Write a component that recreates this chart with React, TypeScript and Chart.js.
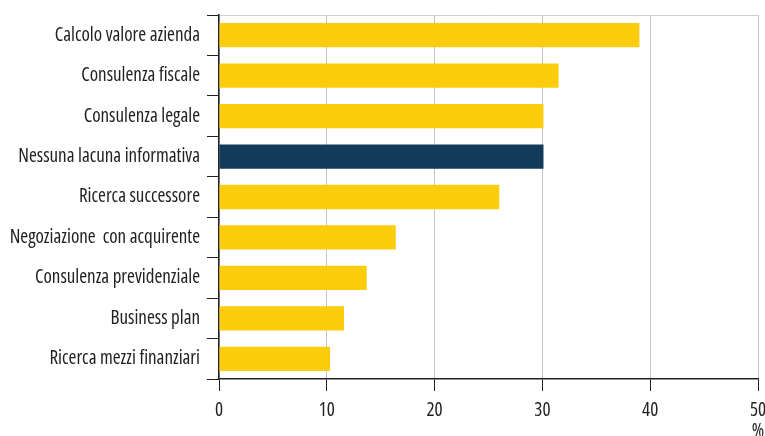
import React, { useEffect, useRef } from "react";
import { Chart, registerables } from "chart.js";

Chart.register(...registerables);

const categories = [
  "Calcolo valore azienda",
  "Consulenza fiscale",
  "Consulenza legale",
  "Nessuna lacuna informativa",
  "Ricerca successore",
  "Negoziazione  con acquirente",
  "Consulenza previdenziale",
  "Business plan",
  "Ricerca mezzi finanziari",
];

const values = [39.0, 31.5, 30.1, 30.1, 26.0, 16.4, 13.7, 11.6, 10.3];

const highlightIndex = 3;

const xTicks = [0, 10, 20, 30, 40, 50];
const unitLabel = "%";

const YELLOW = "#FBCD0C";
const NAVY = "#143A5A";
const FONT = '"Open Sans", sans-serif';
const fontSpec = { family: FONT, size: 19, weight: "condensed" as any };

const unitPlugin = {
  id: "unitLabel",
  afterDraw(chart: any) {
    const x = chart.scales.x;
    const ctx = chart.ctx;
    ctx.save();
    ctx.font = 'condensed 19px "Open Sans", sans-serif';
    ctx.fillStyle = "#222";
    ctx.textAlign = "center";
    ctx.textBaseline = "alphabetic";
    ctx.fillText(unitLabel, x.getPixelForValue(xTicks[xTicks.length - 1]), x.bottom + 1);
    ctx.restore();
  },
};

export default function App() {
  const ref = useRef<HTMLCanvasElement>(null);

  useEffect(() => {
    const canvas = ref.current;
    if (!canvas) return;
    const chart = new Chart(canvas, {
      type: "bar",
      data: {
        labels: categories,
        datasets: [
          {
            data: values,
            backgroundColor: values.map((_, i) => (i === highlightIndex ? NAVY : YELLOW)),
            borderWidth: 0,
            barPercentage: 0.6,
            categoryPercentage: 1,
          },
        ],
      },
      plugins: [unitPlugin],
      options: {
        indexAxis: "y",
        animation: false,
        responsive: true,
        maintainAspectRatio: false,
        layout: { padding: { top: 15, right: 7, left: 0, bottom: 0 } },
        plugins: {
          legend: { display: false },
          tooltip: { enabled: false },
        },
        scales: {
          x: {
            min: 0,
            max: 50,
            afterBuildTicks: (scale: any) => {
              scale.ticks = xTicks.map((v) => ({ value: v }));
            },
            afterFit: (scale: any) => {
              scale.height = 57;
              scale.paddingRight = 7;
            },
            grid: {
              color: "#c4c4c4",
              lineWidth: 1,
              tickColor: "#222",
              tickLength: 12,
              drawOnChartArea: true,
            },
            border: { color: "#222", width: 1.5 },
            ticks: {
              color: "#222",
              font: fontSpec,
              padding: 8,
              maxRotation: 0,
            },
          },
          y: {
            afterFit: (scale: any) => {
              scale.width = 219;
              scale.paddingTop = 0;
              scale.paddingBottom = 0;
            },
            grid: {
              offset: true,
              color: (ctx: any) => (ctx.index === 0 ? "#d0d0d0" : "rgba(0,0,0,0)"),
              tickColor: "#222",
              tickLength: 12,
              lineWidth: 1,
              drawOnChartArea: true,
            },
            border: { color: "#222", width: 1.5 },
            ticks: {
              color: "#222",
              font: fontSpec,
              padding: 7,
            },
          },
        },
      },
    });
    return () => chart.destroy();
  }, []);

  return (
    <div style={{ position: "fixed", left: 0, top: 0, width: 765, height: 436, background: "#fff" }}>
      <canvas ref={ref} />
    </div>
  );
}
